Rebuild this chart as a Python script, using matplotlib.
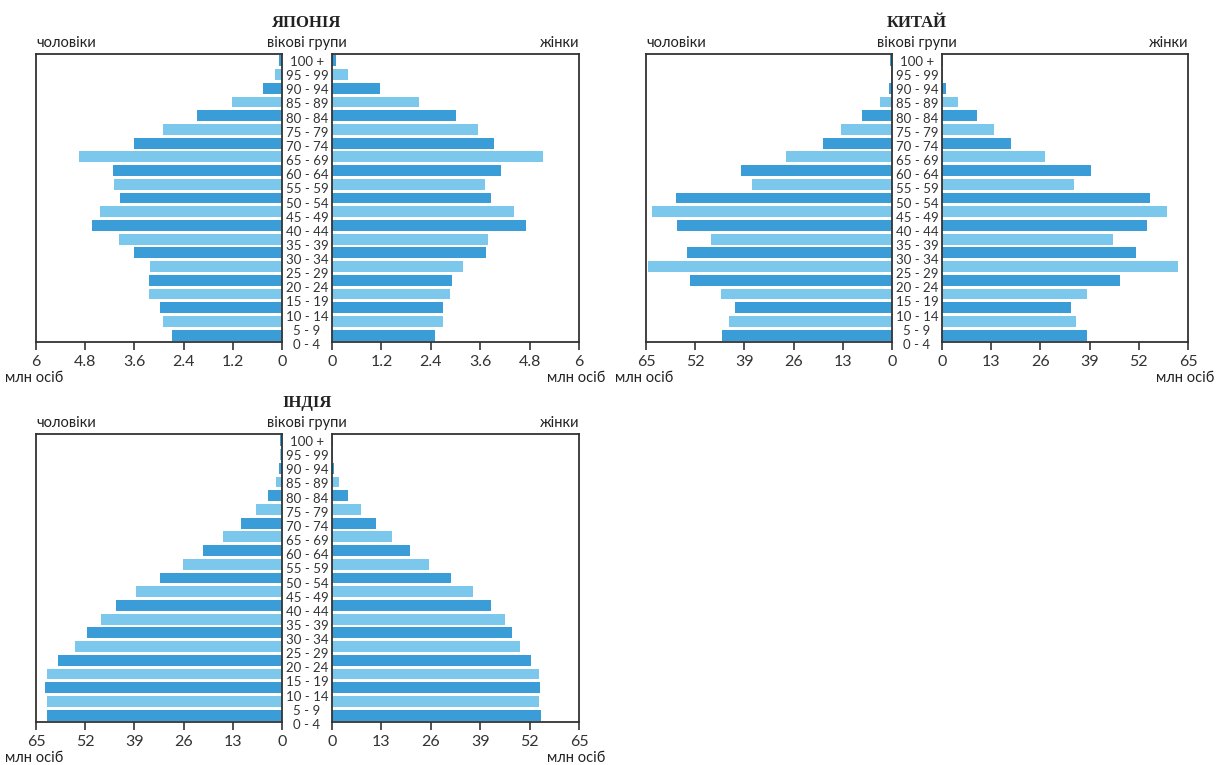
import numpy as np
import matplotlib.pyplot as plt

# age groups, from youngest to oldest
ages = ["0 - 4", "5 - 9", "10 - 14", "15 - 19", "20 - 24", "25 - 29", "30 - 34",
        "35 - 39", "40 - 44", "45 - 49", "50 - 54", "55 - 59", "60 - 64", "65 - 69",
        "70 - 74", "75 - 79", "80 - 84", "85 - 89", "90 - 94", "95 - 99", "100 +"]

# millions of people
japan_men = [2.69, 2.90, 2.97, 3.24, 3.24, 3.21, 3.61, 3.97, 4.64, 4.44, 3.95,
             4.10, 4.12, 4.95, 3.60, 2.90, 2.08, 1.21, 0.46, 0.16, 0.07]
japan_women = [2.51, 2.70, 2.70, 2.86, 2.91, 3.18, 3.73, 3.78, 4.72, 4.43, 3.86,
               3.71, 4.11, 5.12, 3.94, 3.54, 3.02, 2.12, 1.16, 0.40, 0.10]

china_men = [44.9, 43.2, 41.4, 45.2, 53.3, 64.6, 54.2, 47.7, 56.8, 63.3, 57.2,
             37.0, 40.0, 27.9, 18.3, 13.4, 8.0, 3.1, 0.9, 0.2, 0.5]
china_women = [38.3, 35.5, 34.1, 38.3, 47.0, 62.4, 51.2, 45.1, 54.1, 59.5, 54.9,
               34.9, 39.3, 27.3, 18.1, 13.7, 9.2, 4.1, 1.1, 0.3, 0.2]

india_men = [62.2, 62.2, 62.6, 62.1, 59.3, 54.8, 51.4, 47.8, 43.8, 38.5, 32.2,
             26.2, 20.8, 15.5, 10.8, 6.9, 3.7, 1.7, 0.8, 0.5, 0.6]
india_women = [54.9, 54.5, 54.7, 54.5, 52.3, 49.6, 47.3, 45.5, 41.8, 37.0, 31.3,
               25.5, 20.5, 15.7, 11.6, 7.7, 4.2, 1.8, 0.5, 0.3, 0.2]

japan_ticks = [0, 1.2, 2.4, 3.6, 4.8, 6]
japan_ticklabels = ["0", "1.2", "2.4", "3.6", "4.8", "6"]
big_ticks = [0, 13, 26, 39, 52, 65]
big_ticklabels = ["0", "13", "26", "39", "52", "65"]

W, H = 1217, 765
DARK = "#3a9dd7"
LIGHT = "#7cc8ec"
INK = "#333333"
FONT = "Lato"

fig = plt.figure(figsize=(W / 100, H / 100), dpi=100, facecolor="white")


def px_axes(x0, x1, top, bottom):
    return fig.add_axes([x0 / W, 1 - bottom / H, (x1 - x0) / W, (bottom - top) / H])


def side(ax, values, ticks, ticklabels, flip):
    y = np.arange(len(values))
    colors = [DARK if i % 2 == 0 else LIGHT for i in y]
    ax.barh(y, values, height=0.8, color=colors, edgecolor="none")
    ax.set_ylim(-0.5, len(values) - 0.5)
    ax.set_xlim(ticks[0], ticks[-1])
    if flip:
        ax.invert_xaxis()
    ax.set_xticks(ticks)
    ax.set_xticklabels(ticklabels, fontfamily=FONT, fontsize=11.5, color=INK)
    ax.set_yticks([])
    ax.tick_params(axis="x", direction="out", length=5.5, width=1.2, pad=4, color=INK)
    for s in ax.spines.values():
        s.set_linewidth(1.3)
        s.set_color(INK)
    ax.set_facecolor("none")


def pyramid(name, men, women, ticks, ticklabels, lx0, lx1, rx0, rx1, top, bottom):
    axl = px_axes(lx0, lx1, top, bottom)
    side(axl, men, ticks, ticklabels, True)
    axr = px_axes(rx0, rx1, top, bottom)
    side(axr, women, ticks, ticklabels, False)

    cx = (lx1 + rx0) / 2
    # age labels sit a little lower than the bars near the bottom
    axc = px_axes(lx1 + 2, rx0 - 2, top + 1, bottom + 10)
    axc.set_ylim(-0.5, len(ages) - 0.5)
    axc.set_xlim(0, 1)
    axc.axis("off")
    for i, a in enumerate(ages):
        axc.text(0.5, i, a, ha="center", va="center", fontfamily=FONT,
                 fontsize=9.5, color=INK)

    fig.text(cx / W, 1 - (top - 31) / H, name, ha="center", va="center",
             fontfamily="Liberation Serif", fontweight="bold", fontsize=12, color="#222222")
    fig.text(lx0 / W, 1 - (top - 11) / H, "чоловіки", ha="left", va="center",
             fontfamily=FONT, fontsize=10.5, color="#222222")
    fig.text(cx / W, 1 - (top - 11) / H, "вікові групи", ha="center", va="center",
             fontfamily=FONT, fontsize=10.5, color="#222222")
    fig.text(rx1 / W, 1 - (top - 11) / H, "жінки", ha="right", va="center",
             fontfamily=FONT, fontsize=10.5, color="#222222")
    fig.text((lx0 - 31) / W, 1 - (bottom + 36) / H, "млн осіб", ha="left", va="center",
             fontfamily=FONT, fontsize=10.5, color="#222222")
    fig.text((rx1 + 26) / W, 1 - (bottom + 36) / H, "млн осіб", ha="right", va="center",
             fontfamily=FONT, fontsize=10.5, color="#222222")


pyramid("ЯПОНІЯ", japan_men, japan_women, japan_ticks, japan_ticklabels,
        36, 282, 332, 579, 54, 342)
pyramid("КИТАЙ", china_men, china_women, big_ticks, big_ticklabels,
        646, 892, 942, 1188, 54, 342)
pyramid("ІНДІЯ", india_men, india_women, big_ticks, big_ticklabels,
        36, 282, 332, 579, 434, 722)

fig.savefig("out.png", dpi=100, facecolor="white")
